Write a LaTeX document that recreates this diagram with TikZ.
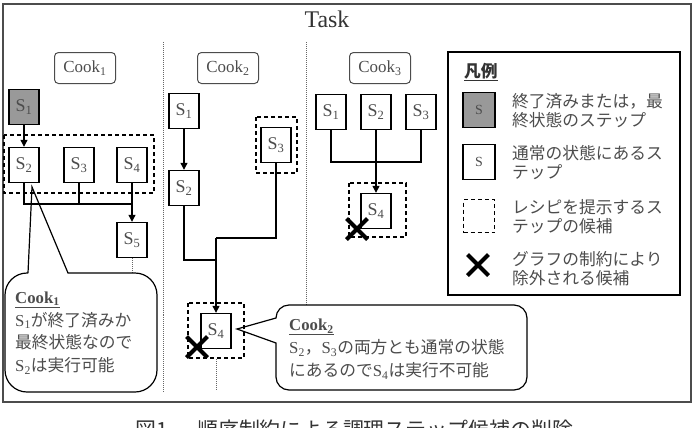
\documentclass[tikz,border=0pt]{standalone}
\usepackage{fontspec}
\setmainfont{Liberation Serif}
\newfontfamily\jpfont{Noto Sans CJK JP}
\usepackage{tikz}
\usetikzlibrary{arrows.meta, positioning, shapes.misc}

\newcommand{\sx}[1]{{\rmfamily S\textsubscript{#1}}}

\tikzset{
  stepbox/.style={draw, line width=1.4bp, minimum width=30bp, minimum height=35bp,
    inner sep=0pt, text=black!70, font=\fontsize{18}{18}\selectfont},
  donebox/.style={stepbox, fill=black!40},
  candbox/.style={draw, line width=1.3bp, dash pattern=on 4bp off 3bp},
  cooklabel/.style={draw=black!70, rounded corners=4bp, line width=1bp,
    minimum width=61bp, minimum height=31bp, inner sep=0pt, text=black!70,
    font=\fontsize{17}{17}\selectfont},
  xmark/.style={cross out, draw, line width=4bp, minimum size=17bp, inner sep=0pt},
  link/.style={line width=1.2bp},
  arr/.style={link, -{Triangle[length=7bp,width=7bp]}},
  sep/.style={densely dotted, line width=1bp, black!60},
  callout/.style={draw, line width=1.2bp},
  notetext/.style={anchor=west, align=left, inner sep=0pt, text=black!70,
    font=\jpfont\fontsize{16.8}{23}\selectfont},
  legtext/.style={anchor=west, align=left, inner sep=0pt, text=black!70,
    font=\jpfont\fontsize{16.8}{19}\selectfont}
}

\begin{document}
\begin{tikzpicture}[x=1bp, y=-1bp]
  \useasboundingbox (0,0) rectangle (698,427);
  \clip (0,0) rectangle (698,427);

  % frame and title
  \draw[line width=1.6bp, black!70] (3,4) rectangle (691,402);
  \node[font=\fontsize{24}{24}\selectfont, text=black!80] (task) at (327,19) {Task};

  % separators
  \draw[sep] (163,42) -- (163,393);
  \draw[sep] (306,42) -- (306,305);

  % cook 1
  \node[cooklabel] (cook1) at (85,68) {Cook\textsubscript{1}};
  \node[donebox] (a1) at (24,107) {\sx{1}};
  \draw[candbox] (4,135) rectangle (154,193);
  \node[stepbox] (a2) at (24,165) {\sx{2}};
  \node[stepbox] (a3) at (79,165) {\sx{3}};
  \node[stepbox] (a4) at (132,165) {\sx{4}};
  \node[stepbox] (a5) at (132,240) {\sx{5}};
  \coordinate (j1) at (132,204);
  \draw[arr] (a1) -- (a2);
  \draw[link] (a2.south) |- (j1);
  \draw[link] (a3.south) -- (a3.south |- j1);
  \draw[arr] (a4) -- (a5);

  % note 1
  \coordinate (t1) at (32,187);
  \coordinate (n1top) at (132,273);
  \draw[sep] (a5) -- (n1top);
  \draw[callout] (28,273) -- (t1) -- (68,273) [rounded corners=22bp]
    -- (157,273) -- (157,392) -- (5,392) -- (5,273) -- (28,273);
  \node[notetext] (note1) at (15,333)
    {{\rmfamily\underline{\textbf{Cook\textsubscript{1}}}}\\
     \sx{1}が終了済みか\\最終状態なので\\\sx{2}は実行可能};

  % cook 2
  \node[cooklabel] (cook2) at (228,68) {Cook\textsubscript{2}};
  \node[stepbox] (b1) at (184,111) {\sx{1}};
  \node[stepbox] (b2) at (184,188) {\sx{2}};
  \draw[candbox] (256,117) rectangle (297,173);
  \node[stepbox] (b3) at (276,145) {\sx{3}};
  \draw[candbox] (188,303) rectangle (244,358);
  \node[stepbox] (b4) at (216,331) {\sx{4}};
  \coordinate (j2) at (216,238);
  \coordinate (j2b) at (216,260);
  \draw[arr] (b1) -- (b2);
  \draw[link] (b3.south) |- (j2);
  \draw[link] (b2.south) |- (j2b);
  \draw[arr] (j2) -- (b4);
  \node[xmark] (x2) at (197,347) {};
  \coordinate (b4top) at (216,359);
  \coordinate (b4end) at (216,390);
  \draw[sep] (b4top) -- (b4end);

  % note 2
  \coordinate (t2) at (237,329);
  \draw[callout] (276,343) -- (t2) -- (276,318)
    arc[start angle=180, end angle=270, radius=13] -- (514,305)
    arc[start angle=270, end angle=360, radius=13] -- (527,377)
    arc[start angle=0, end angle=90, radius=13] -- (289,390)
    arc[start angle=90, end angle=180, radius=13] -- cycle;
  \node[notetext] (note2) at (289,349)
    {{\rmfamily\underline{\textbf{Cook\textsubscript{2}}}}\\
     \sx{2}，\sx{3}の両方とも通常の状態\\にあるので\sx{4}は実行不可能};

  % cook 3
  \node[cooklabel] (cook3) at (380,68) {Cook\textsubscript{3}};
  \node[stepbox] (c1) at (331,112) {\sx{1}};
  \node[stepbox] (c2) at (376,112) {\sx{2}};
  \node[stepbox] (c3) at (421,112) {\sx{3}};
  \draw[candbox] (349,183) rectangle (406,237);
  \node[stepbox] (c4) at (376,211) {\sx{4}};
  \coordinate (j3) at (376,162);
  \draw[link] (c1.south) |- (j3) -| (c3.south);
  \draw[arr] (c2) -- (c4);
  \node[xmark] (x3) at (357,229) {};

  % legend
  \draw[line width=1.5bp] (448,52) rectangle (680,295);
  \node[anchor=west, inner sep=0pt, text=black!80, font=\jpfont\fontsize{16.8}{19}\selectfont]
    (legtitle) at (464,72) {\underline{\textbf{凡例}}};
  \node[donebox, minimum width=32bp, font=\fontsize{14}{14}\selectfont] (l1) at (479,110) {S};
  \node[legtext] (l1t) at (512,111) {終了済みまたは，最\\終状態のステップ};
  \node[stepbox, minimum width=32bp, font=\fontsize{14}{14}\selectfont] (l2) at (479,162) {S};
  \node[legtext] (l2t) at (512,163) {通常の状態にあるス\\テップ};
  \node[candbox, minimum width=31bp, minimum height=33bp] (l3) at (479,216) {};
  \node[legtext] (l3t) at (512,217) {レシピを提示するス\\テップの候補};
  \node[xmark] (l4) at (478,265) {};
  \node[legtext] (l4t) at (512,269) {グラフの制約により\\除外される候補};

  % caption (cut off by the page edge)
  \node[anchor=base west, inner sep=0pt, text=black!80, font=\jpfont\fontsize{21}{21}\selectfont]
    (cap1) at (135,437) {図1};
  \node[anchor=base west, inner sep=0pt, text=black!80, font=\jpfont\fontsize{21}{21}\selectfont]
    (cap2) at (197,437) {順序制約による調理ステップ候補の削除};
\end{tikzpicture}
\end{document}
